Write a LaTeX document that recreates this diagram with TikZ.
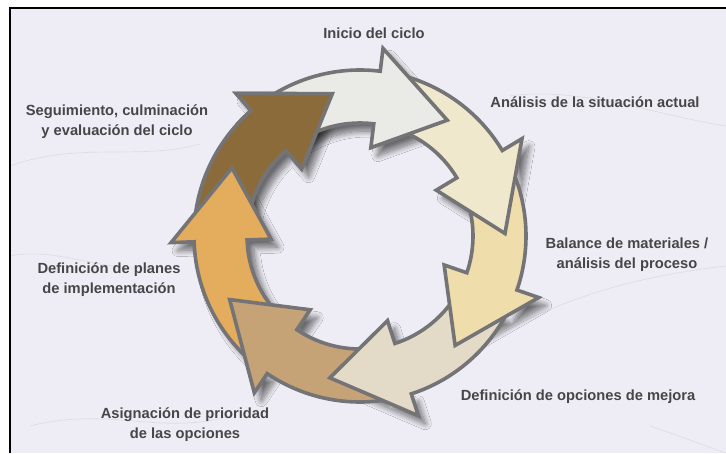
\documentclass[tikz,border=0pt]{standalone}
\usepackage{fontspec}
\setmainfont{Liberation Sans}
\usetikzlibrary{shadows.blur}

\definecolor{bgmarble}{RGB}{238,237,245}
\definecolor{rimgray}{RGB}{116,116,118}
\definecolor{labelgray}{RGB}{70,70,72}
\definecolor{inicio}{RGB}{234,234,231}
\definecolor{analisis}{RGB}{240,232,204}
\definecolor{balance}{RGB}{239,221,172}
\definecolor{opciones}{RGB}{227,218,199}
\definecolor{prioridad}{RGB}{198,162,119}
\definecolor{planes}{RGB}{227,173,93}
\definecolor{seguimiento}{RGB}{140,107,58}

% one curved piece of the ring: #1 options, #2 tail angle, #3 tip angle
\newcommand{\cyclearrow}[3]{%
  \path[#1] (#2:166) arc[start angle=#2, end angle=#3+30, radius=166]
    -- (#3+30:189) -- (#3:145) -- (#3+30:89) -- (#3+30:113)
    arc[start angle=#3+30, end angle=#2, radius=113] -- cycle;}

\begin{document}
\begin{tikzpicture}[x=1pt,y=1pt,
  rim/.style={draw=rimgray, line width=3.6pt, line join=miter},
  phasetext/.style={text=labelgray, font=\bfseries\fontsize{14.7}{20}\selectfont, align=center},
  vein/.style={draw=gray, line width=0.7pt, opacity=0.15},
  arrowshadow/.style={blur shadow={shadow xshift=7pt, shadow yshift=-8pt,
      shadow opacity=55, shadow blur radius=6pt, shadow blur steps=12}}]
  \useasboundingbox (-360,-217) rectangle (366,236);
  \fill[white] (-360,-217) rectangle (366,236);
  \fill[bgmarble] (-350,-217) rectangle (366,228);
  % faint marble veins
  \draw[vein] (-350,70) .. controls (-280,95) and (-220,75) .. (-160,92);
  \draw[vein] (-350,-20) .. controls (-300,-10) and (-250,-40) .. (-200,-30);
  \draw[vein] (120,-110) .. controls (200,-60) and (280,-40) .. (366,-30);
  \draw[vein] (150,140) .. controls (220,150) and (300,120) .. (366,110);
  \draw[vein] (290,-190) .. controls (320,-200) and (345,-210) .. (366,-217);
  \draw[vein] (-330,-190) .. controls (-250,-170) and (-200,-200) .. (-130,-180);
  \draw[black, line width=1.3pt, line join=miter] (-350,-217) -- (-350,228) -- (366,228);

  % shadows first
  \foreach \tail/\tip in {121/53, 21/1, -29/-49, -82/-102, -134/-154, 226/152, 172/101}
    \cyclearrow{arrowshadow}{\tail}{\tip};

  % ring pieces, each head over the next tail
  \cyclearrow{rim, fill=seguimiento}{172}{101}
  \cyclearrow{rim, fill=planes}{226}{152}
  \cyclearrow{rim, fill=prioridad}{-82}{-154}
  \cyclearrow{rim, fill=opciones}{-29}{-102}
  \cyclearrow{rim, fill=balance}{21}{-49}
  \cyclearrow{rim, fill=analisis}{73}{1}
  \cyclearrow{rim, fill=inicio}{121}{53}
  \begin{scope}
    \clip (0,0) -- (95:260) arc[start angle=95, end angle=138, radius=260] -- cycle;
    \cyclearrow{rim, fill=seguimiento}{172}{101}
  \end{scope}

  % phase labels
  \node[phasetext] (inicio) at (14,203) {Inicio del ciclo};
  \node[phasetext] (analisis) at (235,134) {Análisis de la situación actual};
  \node[phasetext] (balance) at (267,-18.5) {Balance de materiales /\\análisis del proceso};
  \node[phasetext] (opciones) at (218,-161) {Definición de opciones de mejora};
  \node[phasetext] (prioridad) at (-175,-188.5) {Asignación de prioridad\\de las opciones};
  \node[phasetext] (planes) at (-251,-43.5) {Definición de planes\\de implementación};
  \node[phasetext] (seguimiento) at (-243,114) {Seguimiento, culminación\\y evaluación del ciclo};
\end{tikzpicture}
\end{document}
